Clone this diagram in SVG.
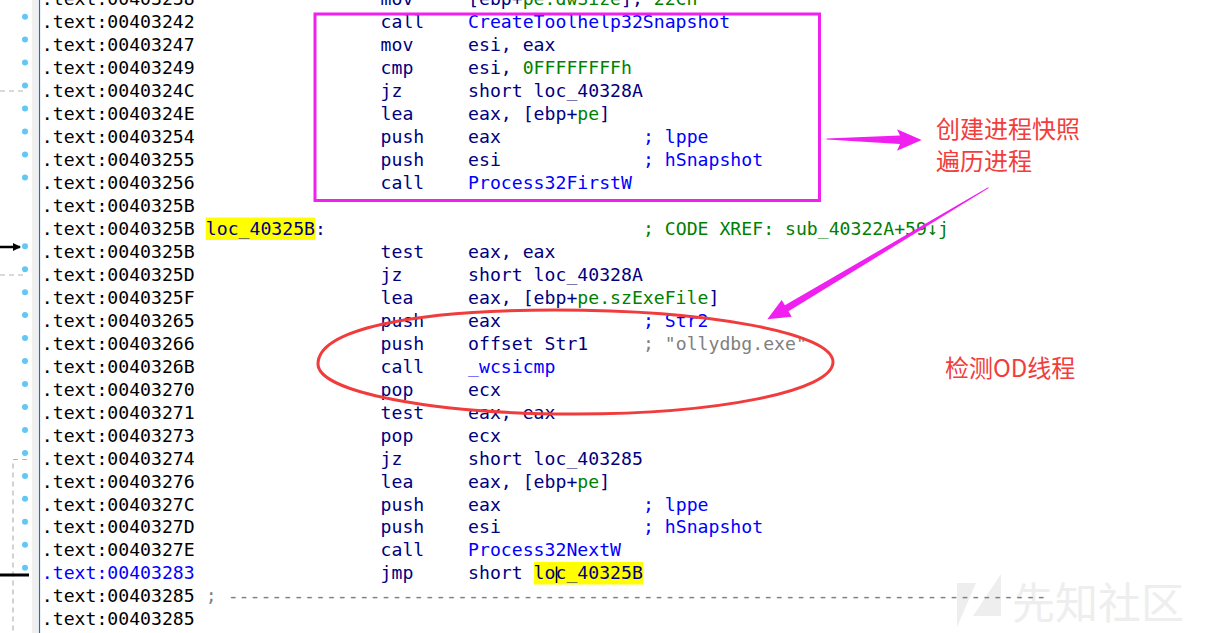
<svg xmlns="http://www.w3.org/2000/svg" width="1205" height="633" viewBox="0 0 1205 633">
<style>
.c{font-family:"DejaVu Sans Mono","Liberation Mono",monospace;font-size:18.15px}
.a{fill:#000}
.n{fill:#000080}
.b{fill:#0000ff}
.g{fill:#008000}
.y{fill:#808080}
.dot{fill:#61c7f7}
.dash{stroke:#b4b4b4;stroke-width:1.2;stroke-dasharray:5 4;fill:none}
.hl{fill:#ffff00}
.cj{font-family:"Noto Sans CJK SC","Noto Sans",sans-serif;font-size:24px;fill:#f23d3d}
.mg{fill:#f020f0}
</style>
<defs>
<marker id="ah" markerWidth="8" markerHeight="8" refX="7" refY="4" orient="auto" markerUnits="userSpaceOnUse">
<path d="M0,0 L8,4 L0,8 Z" fill="#000"/>
</marker>
</defs>
<rect width="1205" height="633" fill="#fff"/>

<g id="watermark">
<polygon points="957,583 976,583 957,627" fill="#eeeeee"/>
<polygon points="973,616 1001,574 1001,616" fill="#eeeeee"/>
<text x="1012" y="619" style="font-family:'Noto Sans CJK SC',sans-serif;font-size:43px;fill:#eeeeee">先知社区</text>
</g>

<g id="margin">
<rect x="32" y="0" width="6.5" height="633" fill="#efefef"/>
<line x1="39.5" y1="0" x2="39.5" y2="633" stroke="#2a6ebb" stroke-width="1.2"/>
<g id="dots">
<circle class="dot" cx="25" cy="16.7" r="3"/>
<circle class="dot" cx="25" cy="39.6" r="3"/>
<circle class="dot" cx="25" cy="62.6" r="3"/>
<circle class="dot" cx="25" cy="85.5" r="3"/>
<circle class="dot" cx="25" cy="108.5" r="3"/>
<circle class="dot" cx="25" cy="131.5" r="3"/>
<circle class="dot" cx="25" cy="154.4" r="3"/>
<circle class="dot" cx="25" cy="177.4" r="3"/>
<circle class="dot" cx="25" cy="246.3" r="3"/>
<circle class="dot" cx="25" cy="269.2" r="3"/>
<circle class="dot" cx="25" cy="292.2" r="3"/>
<circle class="dot" cx="25" cy="315.1" r="3"/>
<circle class="dot" cx="25" cy="338.1" r="3"/>
<circle class="dot" cx="25" cy="361.1" r="3"/>
<circle class="dot" cx="25" cy="384" r="3"/>
<circle class="dot" cx="25" cy="407" r="3"/>
<circle class="dot" cx="25" cy="429.9" r="3"/>
<circle class="dot" cx="25" cy="452.9" r="3"/>
<circle class="dot" cx="25" cy="475.9" r="3"/>
<circle class="dot" cx="25" cy="498.8" r="3"/>
<circle class="dot" cx="25" cy="521.8" r="3"/>
<circle class="dot" cx="25" cy="544.7" r="3"/>
<circle class="dot" cx="25" cy="567.7" r="3"/>
</g>
<g id="flow">
<path class="dash" d="M0,91 H27"/>
<path class="dash" d="M0,275 H27"/>
<path class="dash" d="M27,459.5 H13 V633"/>
<line x1="0" y1="247" x2="20" y2="247" stroke="#000" stroke-width="2.5" marker-end="url(#ah)"/>
<line x1="0" y1="575" x2="29" y2="575" stroke="#000" stroke-width="3"/>
</g>
</g>

<g id="code" class="c" xml:space="preserve">
<rect class="hl" x="205.8" y="217.5" width="109.3" height="22.5"/>
<rect class="hl" x="533.9" y="562" width="109.3" height="22.5"/>
<g id="addr" class="a">
<text x="41.8" y="5.4">.text:00403238</text>
<text x="41.8" y="28.36">.text:00403242</text>
<text x="41.8" y="51.32">.text:00403247</text>
<text x="41.8" y="74.28">.text:00403249</text>
<text x="41.8" y="97.24">.text:0040324C</text>
<text x="41.8" y="120.2">.text:0040324E</text>
<text x="41.8" y="143.16">.text:00403254</text>
<text x="41.8" y="166.12">.text:00403255</text>
<text x="41.8" y="189.08">.text:00403256</text>
<text x="41.8" y="212.04">.text:0040325B</text>
<text x="41.8" y="235">.text:0040325B</text>
<text x="41.8" y="257.96">.text:0040325B</text>
<text x="41.8" y="280.92">.text:0040325D</text>
<text x="41.8" y="303.88">.text:0040325F</text>
<text x="41.8" y="326.84">.text:00403265</text>
<text x="41.8" y="349.8">.text:00403266</text>
<text x="41.8" y="372.76">.text:0040326B</text>
<text x="41.8" y="395.72">.text:00403270</text>
<text x="41.8" y="418.68">.text:00403271</text>
<text x="41.8" y="441.64">.text:00403273</text>
<text x="41.8" y="464.6">.text:00403274</text>
<text x="41.8" y="487.56">.text:00403276</text>
<text x="41.8" y="510.52">.text:0040327C</text>
<text x="41.8" y="533.48">.text:0040327D</text>
<text x="41.8" y="556.44">.text:0040327E</text>
<text x="41.8" y="579.4" class="b">.text:00403283</text>
<text x="41.8" y="602.36">.text:00403285</text>
<text x="41.8" y="625.32">.text:00403285</text>
</g>
<g id="mnem" class="n">
<text x="380.6" y="5.4">mov</text>
<text x="380.6" y="28.36">call</text>
<text x="380.6" y="51.32">mov</text>
<text x="380.6" y="74.28">cmp</text>
<text x="380.6" y="97.24">jz</text>
<text x="380.6" y="120.2">lea</text>
<text x="380.6" y="143.16">push</text>
<text x="380.6" y="166.12">push</text>
<text x="380.6" y="189.08">call</text>
<text x="380.6" y="257.96">test</text>
<text x="380.6" y="280.92">jz</text>
<text x="380.6" y="303.88">lea</text>
<text x="380.6" y="326.84">push</text>
<text x="380.6" y="349.8">push</text>
<text x="380.6" y="372.76">call</text>
<text x="380.6" y="395.72">pop</text>
<text x="380.6" y="418.68">test</text>
<text x="380.6" y="441.64">pop</text>
<text x="380.6" y="464.6">jz</text>
<text x="380.6" y="487.56">lea</text>
<text x="380.6" y="510.52">push</text>
<text x="380.6" y="533.48">push</text>
<text x="380.6" y="556.44">call</text>
<text x="380.6" y="579.4">jmp</text>
</g>
<g id="ops" class="n">
<text x="468.1" y="5.4">[ebp+<tspan class="g">pe.dwSize</tspan>], <tspan class="g">22Ch</tspan></text>
<text x="468.1" y="28.36" class="b">CreateToolhelp32Snapshot</text>
<text x="468.1" y="51.32">esi, eax</text>
<text x="468.1" y="74.28">esi, <tspan class="g">0FFFFFFFFh</tspan></text>
<text x="468.1" y="97.24">short loc_40328A</text>
<text x="468.1" y="120.2">eax, [ebp+<tspan class="g">pe</tspan>]</text>
<text x="468.1" y="143.16">eax</text>
<text x="468.1" y="166.12">esi</text>
<text x="468.1" y="189.08" class="b">Process32FirstW</text>
<text x="205.8" y="235">loc_40325B:</text>
<text x="468.1" y="257.96">eax, eax</text>
<text x="468.1" y="280.92">short loc_40328A</text>
<text x="468.1" y="303.88">eax, [ebp+<tspan class="g">pe.szExeFile</tspan>]</text>
<text x="468.1" y="326.84">eax</text>
<text x="468.1" y="349.8">offset Str1</text>
<text x="468.1" y="372.76" class="b">_wcsicmp</text>
<text x="468.1" y="395.72">ecx</text>
<text x="468.1" y="418.68">eax, eax</text>
<text x="468.1" y="441.64">ecx</text>
<text x="468.1" y="464.6">short loc_403285</text>
<text x="468.1" y="487.56">eax, [ebp+<tspan class="g">pe</tspan>]</text>
<text x="468.1" y="510.52">eax</text>
<text x="468.1" y="533.48">esi</text>
<text x="468.1" y="556.44" class="b">Process32NextW</text>
<text x="468.1" y="579.4">short loc_40325B</text>
</g>
<g id="comments">
<text x="643" y="143.16" class="b">; lppe</text>
<text x="643" y="166.12" class="b">; hSnapshot</text>
<text x="643" y="235" class="g">; CODE XREF: sub_40322A+59↓j</text>
<text x="643" y="326.84" class="b">; Str2</text>
<text x="643" y="349.8" class="y">; "ollydbg.exe"</text>
<text x="643" y="510.52" class="b">; lppe</text>
<text x="643" y="533.48" class="b">; hSnapshot</text>
<text x="205.8" y="602.36" class="y">; ---------------------------------------------------------------------------</text>
</g>
<rect x="555.8" y="566.5" width="1.5" height="16.5" fill="#000"/>
</g>

<g id="annotations">
<rect id="box" x="315" y="14" width="504.5" height="186.5" fill="none" stroke="#f020f0" stroke-width="3"/>
<path id="oval" d="M318,364 C318,330 410,310 555,310 C708,310 833,333 833,362 C833,391 718,414 575,414 C433,414 318,392 318,364 Z" fill="none" stroke="#f03c3c" stroke-width="3"/>
<g id="connectors">
<polygon class="mg" points="826.5,138.6 900,135.5 897,129.3 921.7,140 897,150.7 900,144 826.5,139.6"/>
<polygon class="mg" points="988.2,187.3 784.9,305.3 781.7,300 767.3,319.3 791.7,316.7 788.5,311.3 988.8,188.1"/>
</g>
<g id="label1">
<text class="cj" x="936" y="138.3">创建进程快照</text>
<text class="cj" x="936" y="170">遍历进程</text>
</g>
<g id="label2">
<text class="cj" x="945" y="376.5">检测OD线程</text>
</g>
</g>
</svg>
